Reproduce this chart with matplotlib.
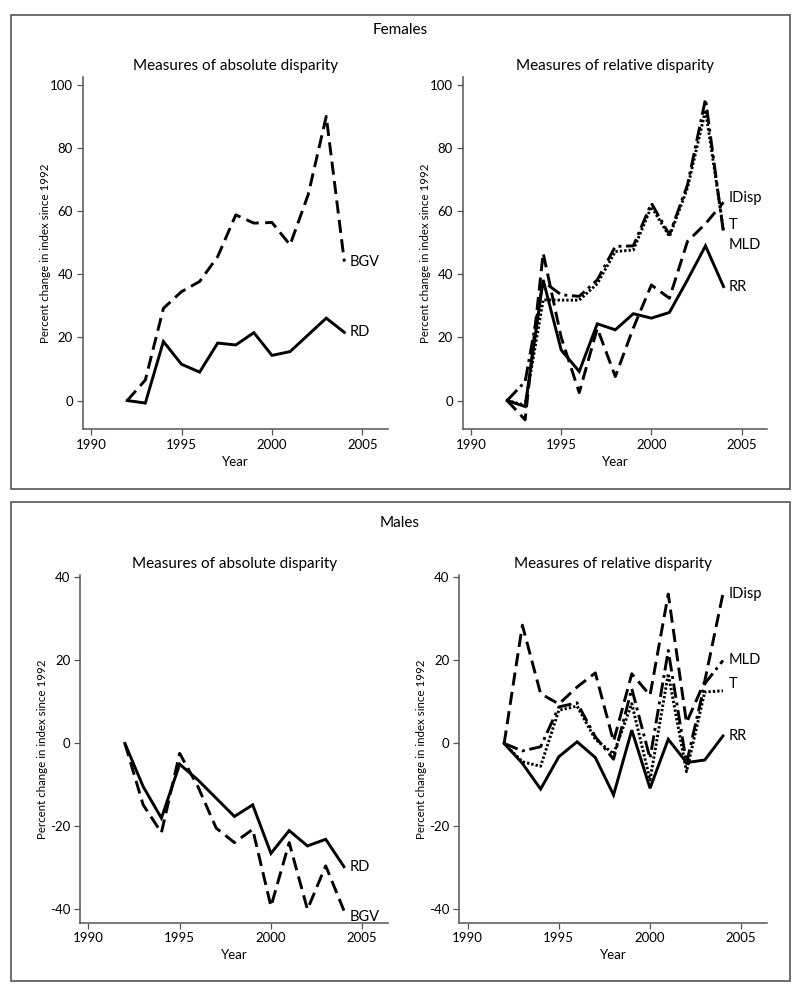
import matplotlib
matplotlib.use("Agg")
import matplotlib.pyplot as plt
from matplotlib.patches import Rectangle

# Percent change in index since 1992
years = list(range(1992, 2005))

f_bgv = [0, 6.5, 29.2, 34.5, 37.7, 45.6, 58.8, 56.2, 56.4, 49.3, 65.2, 90.0, 44.0]
f_rd = [0, -0.8, 18.7, 11.5, 9.0, 18.2, 17.6, 21.5, 14.3, 15.5, 20.8, 26.1, 21.6]
f_idisp = [0, -6.1, 46.7, 20.0, 2.5, 22.9, 7.6, 23.0, 36.6, 32.4, 50.4, 56.0, 62.8]
f_t = [0, -1.5, 31.9, 31.8, 31.8, 37.0, 47.2, 47.7, 61.4, 52.0, 67.3, 92.0, 54.0]
f_mld = [0, 6.0, 37.7, 33.5, 33.0, 38.2, 48.8, 49.0, 62.5, 52.5, 68.3, 95.5, 53.0]
f_rr = [0, -1.9, 38.2, 16.0, 9.2, 24.3, 22.4, 27.5, 26.1, 27.9, 38.2, 49.0, 36.1]

m_rd = [0, -10.4, -18.0, -5.0, -8.8, -13.2, -17.6, -14.8, -26.5, -21.0, -24.7, -23.1, -29.7]
m_bgv = [0, -14.8, -21.5, -2.4, -10.4, -20.4, -23.9, -20.7, -39.3, -23.9, -40.0, -29.5, -40.3]
m_idisp = [0, 28.5, 12.0, 9.5, 13.6, 17.0, 0.5, 16.8, 11.6, 36.0, 5.0, 15.0, 36.1]
m_mld = [0, -1.8, -0.8, 8.8, 9.8, 1.6, -3.8, 13.2, -3.6, 22.4, -4.8, 14.4, 20.0]
m_t = [0, -4.4, -5.5, 8.0, 9.0, 1.0, -2.5, 9.6, -8.8, 16.8, -6.8, 12.4, 12.7]
m_rr = [0, -4.8, -11.0, -3.2, 0.4, -3.4, -12.4, 3.2, -10.8, 1.0, -4.6, -4.0, 1.8]

x_ticks = [1990, 1995, 2000, 2005]
f_yticks = [0, 20, 40, 60, 80, 100]
m_yticks = [-40, -20, 0, 20, 40]

plt.rcParams['font.family'] = ['Lato', 'DejaVu Sans']
plt.rcParams['axes.unicode_minus'] = False

styles = {
    'solid': dict(linestyle='-'),
    'dash': dict(dashes=(4.5, 2.2)),
    'dashdot': dict(dashes=(5, 1.6, 1, 1.6)),
    'dot': dict(dashes=(0.8, 0.7)),
}

GRAY = '#555555'


def style_axes(ax, ylim, yticks):
    ax.set_xlim(1989.54, 2006.43)
    ax.set_ylim(*ylim)
    ax.set_xticks(x_ticks)
    ax.set_yticks(yticks)
    for side in ('top', 'right'):
        ax.spines[side].set_visible(False)
    for side in ('left', 'bottom'):
        ax.spines[side].set_color(GRAY)
        ax.spines[side].set_linewidth(1.1)
    ax.tick_params(direction='out', length=4, width=0.9, color=GRAY,
                   labelsize=9.5, pad=3)
    ax.set_ylabel("Percent change in index since 1992", fontsize=8.3)
    ax.yaxis.set_label_coords(-0.105, 0.5)
    ax.set_xlabel("Year", fontsize=9.5)
    ax.xaxis.set_label_coords(0.5, -0.075)


def draw_panel(ax, series, title, ylim, yticks):
    for vals, name, st, label_y in series:
        ax.plot(years, vals, color='black', linewidth=2.1, solid_joinstyle='miter',
                **styles[st])
        ax.text(2004.3, label_y, name, fontsize=10.5, va='center', ha='left')
    style_axes(ax, ylim, yticks)
    ax.set_title(title, fontsize=11, pad=5)


fig = plt.figure(figsize=(8, 9.9), dpi=100)

# outer frames
for y0, y1 in [(15, 489), (502, 981)]:
    fig.patches.append(Rectangle((11 / 800, 1 - y1 / 990), 779 / 800, (y1 - y0) / 990,
                                 transform=fig.transFigure, fill=False,
                                 edgecolor=GRAY, linewidth=1.2))

fig.text(0.5, 1 - 30 / 990, "Females", ha='center', va='center', fontsize=11)
fig.text(0.5, 1 - 523 / 990, "Males", ha='center', va='center', fontsize=11)

f_ylim = (-9.1, 102.6)
m_ylim = (-43.2, 40.6)

ax1 = fig.add_axes([0.1034, 0.5664, 0.382, 0.3562])
draw_panel(ax1, [
    (f_bgv, 'BGV', 'dash', f_bgv[-1]),
    (f_rd, 'RD', 'solid', f_rd[-1]),
], "Measures of absolute disparity", f_ylim, f_yticks)

ax2 = fig.add_axes([0.5784, 0.5664, 0.3808, 0.3562])
draw_panel(ax2, [
    (f_idisp, 'IDisp', 'dash', f_idisp[-1] + 1.3),
    (f_t, 'T', 'dot', f_t[-1] + 1.6),
    (f_mld, 'MLD', 'dashdot', f_mld[-1] - 3.7),
    (f_rr, 'RR', 'solid', f_rr[-1]),
], "Measures of relative disparity", f_ylim, f_yticks)

ax3 = fig.add_axes([0.1, 0.068, 0.3854, 0.3512])
draw_panel(ax3, [
    (m_rd, 'RD', 'solid', m_rd[-1]),
    (m_bgv, 'BGV', 'dash', m_bgv[-1] - 1.6),
], "Measures of absolute disparity", m_ylim, m_yticks)

ax4 = fig.add_axes([0.5741, 0.068, 0.385, 0.3512])
draw_panel(ax4, [
    (m_idisp, 'IDisp', 'dash', m_idisp[-1]),
    (m_mld, 'MLD', 'dashdot', m_mld[-1]),
    (m_t, 'T', 'dot', m_t[-1] + 1.7),
    (m_rr, 'RR', 'solid', m_rr[-1]),
], "Measures of relative disparity", m_ylim, m_yticks)

fig.savefig('out.png', dpi=100)
